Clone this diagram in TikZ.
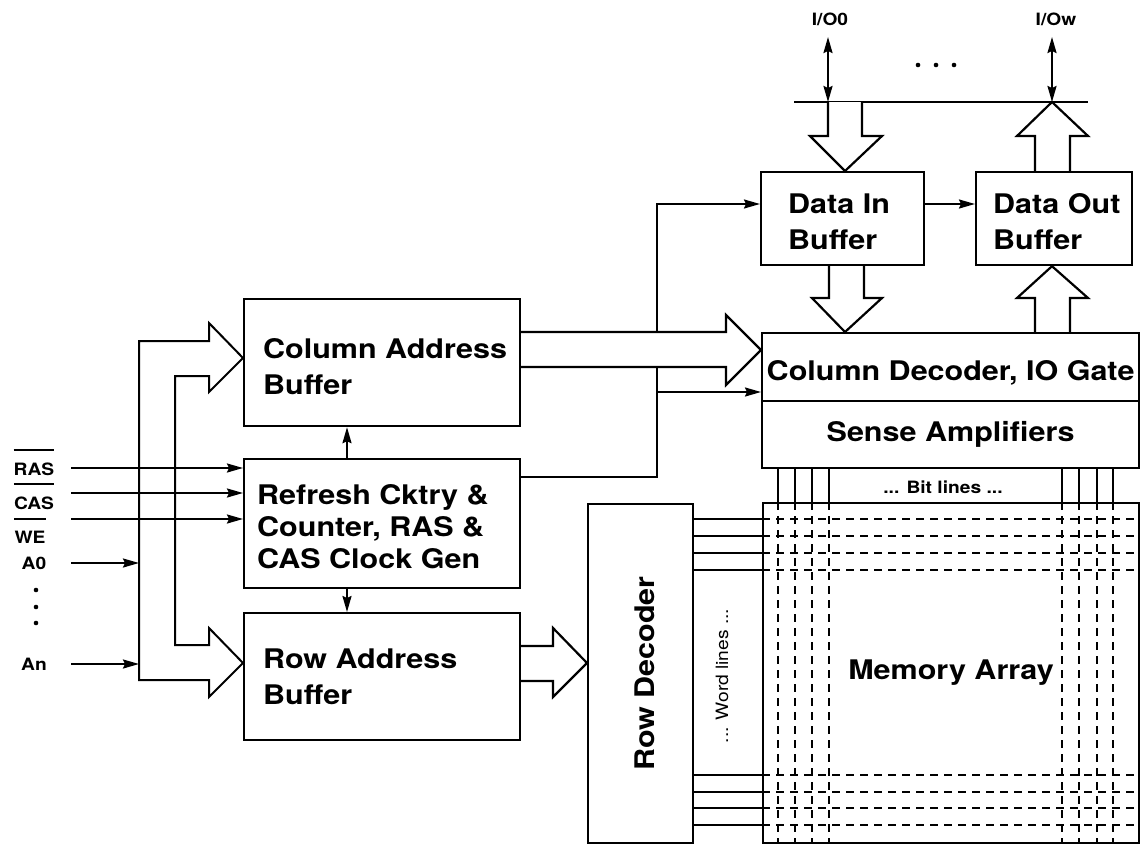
\documentclass[tikz,border=0pt]{standalone}
\usepackage{fontspec}
\setmainfont{TeX Gyre Heros}[FakeStretch=1.13]
\usetikzlibrary{arrows.meta,positioning}
\pgfdeclarelayer{bg}
\pgfsetlayers{bg,main}
\newcommand\lblfont{\fontsize{27}{36}\selectfont\bfseries}
\newcommand\pinfont{\fontsize{17}{20}\selectfont\bfseries}
\newcommand\wlfont{\fontsize{17}{19}\selectfont}

\begin{document}
\begin{tikzpicture}[x=1pt,y=-1pt,>={Stealth[length=16pt,width=9pt,inset=2pt]},
  box/.style={draw,line width=2.2pt,inner sep=0pt,anchor=north west},
  txt/.style={inner sep=0pt,align=left,font=\lblfont},
  pin/.style={inner sep=0pt,font=\pinfont},
  sig/.style={line width=2pt},
  fat/.style={line width=2.2pt,fill=white,line join=miter},
  wire/.style={line width=1.6pt},
  bitln/.style={line width=1.8pt,dash pattern=on 8pt off 6pt}]
\useasboundingbox (0,0) rectangle (1140,843);

% blocks
\node[box,minimum width=276pt,minimum height=127pt] (cab) at (243,298) {};
\node[box,minimum width=276pt,minimum height=129pt] (rfsh) at (243,458) {};
\node[box,minimum width=276pt,minimum height=127pt] (rab) at (243,612) {};
\node[box,minimum width=105pt,minimum height=339pt] (rdec) at (587,503) {};
\node[box,minimum width=376pt,minimum height=340pt,font=\lblfont] (marr) at (762,502) {Memory Array};
\node[box,minimum width=377pt,minimum height=68pt] (coldec) at (761,332) {};
\node[box,minimum width=377pt,minimum height=67pt,font=\lblfont] (sense) at (761,400) {Sense Amplifiers};
\node[box,minimum width=163pt,minimum height=93pt] (din) at (760,171) {};
\node[box,minimum width=156pt,minimum height=93pt] (dout) at (975,171) {};

\node[txt,anchor=west] (cabt) at ([xshift=20pt,yshift=-4pt]cab.west) {Column Address\\Buffer};
\node[txt,anchor=west,font=\fontsize{27}{32}\selectfont\bfseries] (rfsht) at ([xshift=14pt,yshift=-3pt]rfsh.west) {Refresh Cktry \&\\Counter, RAS \&\\CAS Clock Gen};
\node[txt,anchor=west] (rabt) at ([xshift=20pt]rab.west) {Row Address\\Buffer};
\node[txt,anchor=west] (dint) at ([xshift=28pt,yshift=-3pt]din.west) {Data In\\Buffer};
\node[txt,anchor=west] (doutt) at ([xshift=18pt,yshift=-3pt]dout.west) {Data Out\\Buffer};
\node[txt] (coldect) at ([yshift=-6pt]coldec.center) {Column Decoder, IO Gate};
\node[txt,rotate=90] (rdect) at ([xshift=4pt]rdec.center) {Row Decoder};
\node[inner sep=0pt,font=\wlfont,rotate=90] (wlab) at (722,676) {... Word lines ...};
\node[pin] (blab) at (943,487) {... Bit lines ...};

% pins
\node[pin] (ras) at (34,469) {RAS};
\node[pin] (cas) at (34,503) {CAS};
\node[pin] (we) at (30,537) {WE};
\node[pin] (a0) at (34,563) {A0};
\node[pin] (an) at (34,664) {An};
\node[pin] (io0) at (830,19) {I/O0};
\node[pin] (iow) at (1056,19) {I/Ow};
\foreach \p in {ras,cas,we}
  \draw[sig] ([yshift=12pt]\p.north west) -- ([yshift=12pt]\p.north east);
\foreach \y in {590,607,623}
  \fill (36,\y) circle (2.3pt);
\foreach \x in {918,936,954}
  \fill (\x,65) circle (2.3pt);

\coordinate (rasin) at (71,468);
\coordinate (casin) at (71,493);
\coordinate (wein) at (71,519);
\coordinate (a0in) at (71,563);
\coordinate (anin) at (71,664);
\coordinate (busl) at (794,102);
\coordinate (busr) at (1088,102);
\coordinate (jct) at (657,392);

\begin{pgfonlayer}{bg}
\draw[sig,->] (rasin) -- (rasin -| rfsh.west);
\draw[sig,->] (casin) -- (casin -| rfsh.west);
\draw[sig,->] (wein) -- (wein -| rfsh.west);
\draw[sig,->] (a0in) -- (139,563);
\draw[sig,->] (anin) -- (139,664);
\draw[sig] (139,680) -- (139,341) -- (209,341) -- (209,323) -- (cab.west |- 0,358) -- (209,392) -- (209,376)
  -- (175,376) -- (175,645) -- (209,645) -- (209,628) -- (rab.west |- 0,663) -- (209,697) -- (209,680) -- cycle;
\draw[sig,->] (rfsh.north -| 347,0) -- (cab.south -| 347,0);
\draw[sig,->] (rfsh.south -| 347,0) -- (rab.north -| 347,0);
\draw[sig,->] (rfsh.east |- 0,477) -- (657,477) -- (657,204) -- (din.west |- 0,204);
\draw[sig,->] (jct) -- (jct -| coldec.west);
\draw[fat] (cab.east |- 0,332) -- (726,332) -- (726,315) -- (coldec.west |- 0,350) -- (726,385) -- (726,367) -- (cab.east |- 0,367);
\draw[fat] (rab.east |- 0,646) -- (553,646) -- (553,628) -- (rdec.west |- 0,663) -- (553,697) -- (553,681) -- (rab.east |- 0,681);
\draw[sig,->] (din.east |- 0,204) -- (dout.west |- 0,204);
\draw[fat] (din.south -| 829,0) -- (829,298) -- (812,298) -- (coldec.north -| 845,0) -- (882,298) -- (864,298) -- (din.south -| 864,0);
\draw[fat] (coldec.north -| 1035,0) -- (1035,298) -- (1017,298) -- (dout.south -| 1052,0) -- (1088,298) -- (1070,298) -- (coldec.north -| 1070,0);
\draw[sig] (busl) -- (busr);
\draw[sig,<->] (828,37) -- (busl -| 828,0);
\draw[sig,<->] (1052,37) -- (busl -| 1052,0);
\draw[fat] (busl -| 828,0) -- (828,136) -- (810,136) -- (din.north -| 845,0) -- (882,136) -- (862,136) -- (busl -| 862,0);
\draw[fat] (dout.north -| 1035,0) -- (1035,136) -- (1017,136) -- (busl -| 1052,0) -- (busr |- 0,136) -- (1070,136) -- (dout.north -| 1070,0);
\foreach \y in {519,536,553,570,775,792,808,825}{
  \draw[wire] (rdec.east |- 0,\y) -- (marr.west |- 0,\y);
  \draw[bitln] (marr.west |- 0,\y) -- (marr.east |- 0,\y);
}
\foreach \x in {778,795,812,829,1062,1079,1097,1113}{
  \draw[wire] (sense.south -| \x,0) -- (marr.north -| \x,0);
  \draw[bitln] (marr.north -| \x,0) -- (marr.south -| \x,0);
}
\end{pgfonlayer}
\end{tikzpicture}
\end{document}
